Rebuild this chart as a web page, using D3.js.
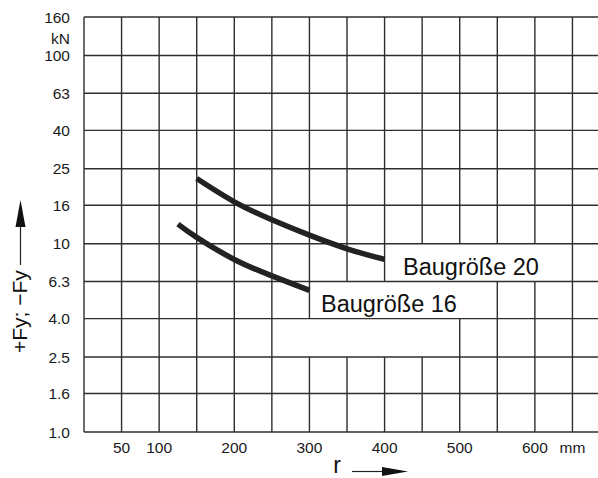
<!DOCTYPE html>
<html>
<head>
<meta charset="utf-8">
<script src="https://cdn.jsdelivr.net/npm/d3@7"></script>
<style>
  body { margin: 0; background: #fff; }
  svg { display: block; font-family: "Liberation Sans", Arial, sans-serif; }
</style>
</head>
<body>
<svg></svg>
<script>
// Axis values
let yTicks = [1, 1.6, 2.5, 4, 6.3, 10, 16, 25, 40, 63, 100, 160];
let yTickLabels = ['1.0', '1.6', '2.5', '4.0', '6.3', '10', '16', '25', '40', '63', '100', '160'];
let xTicks = [50, 100, 200, 300, 400, 500, 600];
let xGrid = [0, 50, 100, 150, 200, 250, 300, 350, 400, 450, 500, 550, 600, 650];

// Curves (r in mm, F in kN)
let r20 = [150, 200, 250, 300, 350, 400];
let f20 = [22.2, 16.7, 13.4, 11.1, 9.4, 8.25];
let r16 = [125, 150, 200, 250, 300];
let f16 = [12.7, 10.8, 8.25, 6.75, 5.65];

// SVG size
let width = 598, height = 478;
let svg = d3.select('svg').attr('width', width).attr('height', height);

// Scales
let xScale = d3.scaleLinear().domain([0, 684]).range([84, 598]);
let yScale = d3.scaleLog().domain([1, 160]).range([432, 17]);

let gridColor = '#2e2e2e';

// Vertical grid lines
svg.append('g')
    .selectAll('line')
    .data(xGrid)
    .enter()
    .append('line')
    .attr('x1', (d) => xScale(d))
    .attr('x2', (d) => xScale(d))
    .attr('y1', yScale(160))
    .attr('y2', yScale(1))
    .attr('stroke', gridColor)
    .attr('stroke-width', 1.4);

// White patches behind the labels (they hide vertical lines only)
let patches = [
    [403, 628, 10, 6.3],
    [303, 505, 6.3, 4],
    [290, 470, 4, 2.5]
];
svg.append('g')
    .selectAll('rect')
    .data(patches)
    .enter()
    .append('rect')
    .attr('x', (d) => xScale(d[0]))
    .attr('width', (d) => xScale(d[1]) - xScale(d[0]))
    .attr('y', (d) => yScale(d[2]))
    .attr('height', (d) => yScale(d[3]) - yScale(d[2]))
    .attr('fill', '#fff');

// Horizontal grid lines
svg.append('g')
    .selectAll('line')
    .data(yTicks)
    .enter()
    .append('line')
    .attr('x1', xScale(0))
    .attr('x2', width)
    .attr('y1', (d) => yScale(d))
    .attr('y2', (d) => yScale(d))
    .attr('stroke', gridColor)
    .attr('stroke-width', 1.4);

// Y tick labels
svg.append('g')
    .selectAll('text')
    .data(yTicks)
    .enter()
    .append('text')
    .attr('x', 70)
    .attr('y', (d) => yScale(d))
    .attr('dy', '0.36em')
    .attr('text-anchor', 'end')
    .attr('font-size', 15.5)
    .attr('fill', '#1a1a1a')
    .text((d, i) => yTickLabels[i]);

svg.append('text')
    .attr('x', 70)
    .attr('y', (yScale(160) + yScale(100)) / 2 + 2)
    .attr('dy', '0.36em')
    .attr('text-anchor', 'end')
    .attr('font-size', 15.5)
    .attr('fill', '#1a1a1a')
    .text('kN');

// X tick labels
svg.append('g')
    .selectAll('text')
    .data(xTicks)
    .enter()
    .append('text')
    .attr('x', (d) => xScale(d))
    .attr('y', 453)
    .attr('text-anchor', 'middle')
    .attr('font-size', 15.5)
    .attr('fill', '#1a1a1a')
    .text((d) => d);

svg.append('text')
    .attr('x', xScale(650))
    .attr('y', 453)
    .attr('text-anchor', 'middle')
    .attr('font-size', 15.5)
    .attr('fill', '#1a1a1a')
    .text('mm');

// Curves
let line = d3.line()
    .x((d) => xScale(d[0]))
    .y((d) => yScale(d[1]))
    .curve(d3.curveNatural);

svg.append('path')
    .datum(r20.map((r, i) => [r, f20[i]]))
    .attr('d', line)
    .attr('fill', 'none')
    .attr('stroke', '#222')
    .attr('stroke-width', 5.5);

svg.append('path')
    .datum(r16.map((r, i) => [r, f16[i]]))
    .attr('d', line)
    .attr('fill', 'none')
    .attr('stroke', '#222')
    .attr('stroke-width', 5.5);

// Curve labels
svg.append('text')
    .attr('x', 403)
    .attr('y', 275)
    .attr('font-size', 23.5)
    .attr('fill', '#111')
    .text('Baugröße 20');

svg.append('text')
    .attr('x', 321)
    .attr('y', 312)
    .attr('font-size', 23.5)
    .attr('fill', '#111')
    .text('Baugröße 16');

// X axis title with arrow
svg.append('text')
    .attr('x', 337)
    .attr('y', 473)
    .attr('text-anchor', 'middle')
    .attr('font-size', 23)
    .attr('fill', '#111')
    .text('r');

svg.append('line')
    .attr('x1', 352).attr('x2', 384)
    .attr('y1', 471.5).attr('y2', 471.5)
    .attr('stroke', '#222').attr('stroke-width', 1.2);
svg.append('path')
    .attr('d', 'M382,467 L408,471.5 L382,476 Z')
    .attr('fill', '#111');

// Y axis title with arrow
svg.append('text')
    .attr('transform', 'translate(27,353) rotate(-90)')
    .attr('font-size', 21)
    .attr('fill', '#111')
    .text('+Fy; −Fy');

svg.append('line')
    .attr('x1', 20.5).attr('x2', 20.5)
    .attr('y1', 265).attr('y2', 225)
    .attr('stroke', '#222').attr('stroke-width', 1.2);
svg.append('path')
    .attr('d', 'M15.5,227 L20.5,200 L25.5,227 Z')
    .attr('fill', '#111');
</script>
</body>
</html>
